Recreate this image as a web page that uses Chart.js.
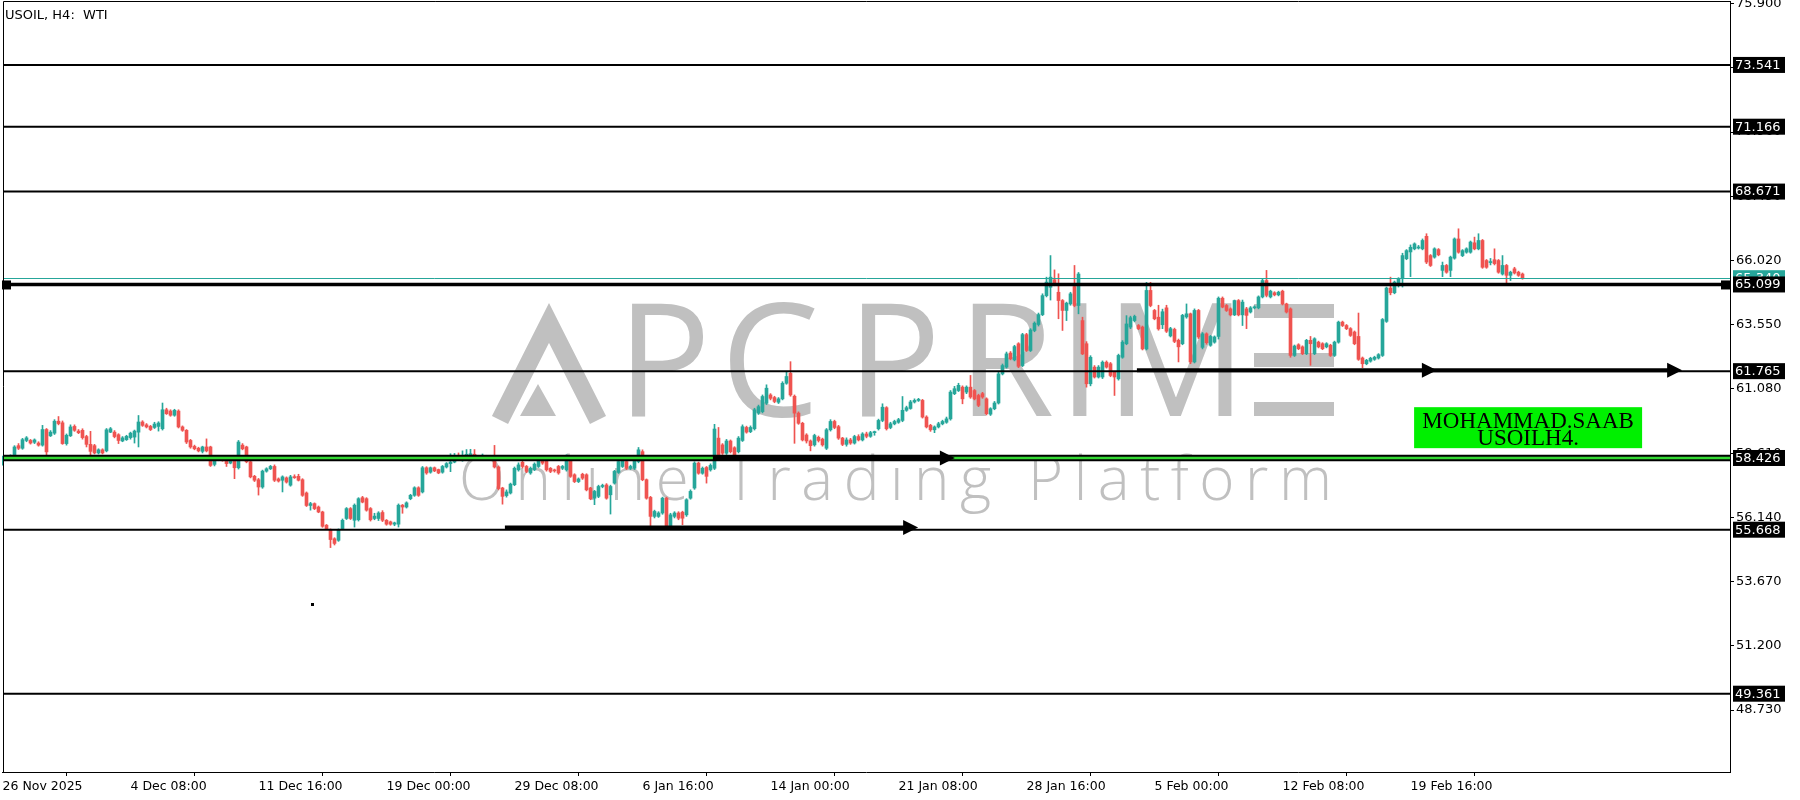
<!DOCTYPE html>
<html><head><meta charset="utf-8">
<script src="https://cdn.jsdelivr.net/npm/chart.js@4.4.1/dist/chart.umd.min.js"></script>
<style>html,body{margin:0;padding:0;background:#fff;overflow:hidden}canvas{display:block}</style>
</head><body>
<canvas id="c" width="1800" height="800"></canvas>
<script>
const opens = [
58.40,58.45,58.42,58.46,58.90,58.80,59.10,59.10,59.03,59.00,
58.92,59.52,59.28,59.38,59.84,59.78,58.98,59.28,59.64,59.46,
59.49,59.25,58.95,58.90,58.62,58.74,58.70,59.42,59.42,59.32,
59.08,59.13,59.21,59.23,59.42,59.81,59.70,59.64,59.60,59.64,
59.55,60.28,60.23,60.07,60.23,59.62,59.49,59.10,58.87,58.80,
58.68,58.85,58.85,58.18,58.36,58.38,58.36,58.23,58.31,58.05,
58.92,58.85,58.28,57.72,57.59,57.31,57.92,58.01,58.10,57.62,
57.57,57.66,57.38,57.70,57.72,57.59,57.08,56.60,56.67,56.54,
56.35,55.84,55.65,55.32,55.26,55.71,56.10,56.48,56.03,56.05,
56.90,56.86,56.48,56.10,56.10,56.33,56.03,55.97,55.88,55.88,
56.61,56.54,56.86,56.99,57.28,57.12,58.05,57.88,58.05,57.98,
57.88,58.08,58.21,58.27,58.53,58.34,58.44,58.46,58.57,58.46,
58.40,58.49,58.49,58.46,58.08,57.27,56.98,57.08,57.40,57.97,
58.26,58.10,57.85,57.98,58.10,58.35,58.35,58.03,57.95,58.10,
58.03,57.97,58.42,57.78,57.52,57.80,57.78,57.27,56.88,56.95,
57.33,57.39,57.01,57.46,57.87,58.10,58.29,58.03,58.03,58.29,
58.67,57.59,56.91,56.18,56.18,56.31,56.88,55.80,56.18,56.31,
56.34,56.24,56.88,57.27,58.23,57.84,58.06,57.97,58.03,59.19,
58.93,58.61,59.08,58.82,58.67,59.10,59.60,59.44,59.55,60.15,
60.21,60.53,60.85,60.75,60.57,60.70,61.30,61.68,60.80,60.15,
59.76,59.31,59.08,58.93,59.22,59.15,58.80,59.51,59.83,59.63,
59.19,58.95,59.12,59.00,59.25,59.12,59.35,59.26,59.40,59.55,
59.87,60.36,59.60,59.74,59.80,59.87,60.26,60.33,60.58,60.64,
60.64,60.00,59.68,59.51,59.62,59.74,59.80,59.93,60.90,61.02,
61.15,60.96,61.15,61.02,60.83,60.90,60.70,60.11,60.32,60.54,
61.66,61.92,62.46,62.20,62.82,61.98,63.17,62.56,63.33,63.56,
63.94,64.67,64.99,65.28,64.80,64.48,64.10,64.35,65.02,64.29,
63.71,62.82,61.28,61.92,61.54,61.54,62.11,62.05,61.72,61.47,
62.30,62.82,63.46,63.71,63.52,63.46,62.62,64.87,64.10,63.84,
63.55,64.20,63.12,63.37,62.95,62.82,63.85,63.97,62.12,64.10,
62.68,63.20,62.76,62.88,63.10,64.57,64.29,64.16,63.93,64.48,
63.93,64.16,64.04,64.20,64.20,64.62,65.25,64.62,64.78,64.70,
64.84,64.35,64.16,62.37,62.78,62.70,62.44,62.95,62.44,62.88,
62.82,62.70,62.76,62.37,62.88,63.65,63.52,63.40,63.27,63.10,
62.27,62.05,62.15,62.22,62.27,62.37,63.68,64.96,64.78,65.12,
65.32,66.09,66.35,66.47,66.50,66.47,66.95,66.21,66.15,66.44,
65.64,65.83,65.64,66.11,66.85,66.21,66.34,66.34,66.70,66.47,
66.79,66.02,65.94,66.05,66.02,65.50,65.83,65.45,65.70,65.57,
65.50];
const highs = [
58.50,58.52,58.55,58.90,58.98,59.18,59.25,59.14,59.16,59.05,
59.68,59.56,59.48,59.90,60.02,59.85,59.35,59.70,59.70,59.52,
59.55,59.30,59.45,58.95,58.78,58.78,59.56,59.60,59.48,59.36,
59.25,59.30,59.42,59.50,60.06,59.86,59.75,59.68,59.80,59.82,
60.54,60.34,60.28,60.30,60.28,59.66,59.52,59.14,58.92,58.84,
58.88,59.16,58.88,58.40,58.44,58.42,58.40,58.52,58.35,59.10,
58.98,58.88,58.32,57.76,57.64,57.96,58.05,58.14,58.16,57.66,
57.74,57.70,57.76,57.78,57.80,57.63,57.12,56.72,56.70,56.58,
56.38,55.87,55.70,55.36,55.70,56.08,56.52,56.52,56.66,56.90,
56.95,56.90,56.52,56.30,56.36,56.40,56.06,56.00,55.96,56.66,
56.64,56.74,57.03,57.32,57.32,58.10,58.09,58.08,58.08,58.00,
58.14,58.25,58.59,58.60,58.62,58.70,58.75,58.76,58.75,58.52,
58.58,58.53,58.53,58.91,58.12,57.30,57.20,57.46,58.08,58.24,
58.30,58.14,58.08,58.24,58.42,58.40,58.38,58.06,58.00,58.14,
58.14,58.55,58.46,57.82,57.66,57.84,57.82,57.30,57.18,57.38,
57.42,57.44,57.38,57.95,58.34,58.40,58.33,58.15,58.40,58.83,
58.74,57.62,56.95,56.42,56.36,56.92,56.92,56.30,56.36,56.36,
56.38,56.86,57.20,58.28,58.27,58.08,58.10,58.20,59.72,59.60,
58.98,59.14,59.12,58.86,59.25,59.70,59.65,59.66,60.34,60.46,
60.85,61.24,60.90,60.80,60.75,61.36,61.75,62.13,60.85,60.20,
59.80,59.36,59.12,59.34,59.27,59.19,59.56,59.90,59.88,59.68,
59.22,59.20,59.18,59.30,59.32,59.40,59.42,59.45,59.46,59.92,
60.51,60.40,59.80,59.88,59.95,60.79,60.42,60.64,60.70,60.72,
60.68,60.05,59.72,59.66,59.80,59.88,60.00,61.02,61.18,61.30,
61.20,61.20,61.60,61.06,60.88,60.95,60.74,60.36,60.60,61.72,
62.04,62.50,62.52,62.76,62.86,63.22,63.22,63.40,63.66,64.00,
64.74,65.38,66.21,65.66,65.51,64.52,64.42,64.80,65.83,65.56,
63.84,62.90,62.36,61.98,61.98,62.16,62.16,62.10,61.76,62.42,
62.94,63.90,63.88,63.92,63.56,63.50,65.18,65.18,64.14,64.30,
64.15,64.30,63.45,63.42,63.00,63.95,64.35,64.00,64.16,64.14,
63.25,63.24,63.14,63.12,64.62,64.62,64.33,64.20,64.50,64.52,
64.50,64.22,64.25,64.28,64.66,65.30,65.64,64.88,64.82,64.84,
64.88,64.38,64.20,62.77,62.82,62.74,62.99,63.10,63.05,62.92,
62.86,62.86,62.80,62.92,63.69,63.69,63.56,63.44,63.31,64.00,
62.31,62.22,62.30,62.34,62.44,63.79,65.00,65.38,65.23,65.36,
66.30,66.44,66.62,66.70,66.60,66.85,67.05,66.25,66.51,66.48,
65.96,65.87,66.19,66.89,67.24,66.44,66.51,66.77,66.92,67.05,
66.83,66.06,66.10,66.47,66.06,66.21,65.87,65.61,65.76,65.61,
65.54];
const lows = [
58.15,58.38,58.38,58.42,58.75,58.76,59.05,58.96,58.98,58.88,
58.88,58.34,59.25,59.33,59.70,58.95,58.92,59.25,59.45,59.36,
59.15,58.85,58.34,58.58,58.58,58.58,58.66,59.40,59.20,58.98,
59.05,59.10,59.15,59.00,58.85,59.64,59.58,59.48,59.56,59.46,
59.50,60.10,60.03,60.03,59.58,59.45,58.98,58.80,58.74,58.66,
58.62,58.66,58.10,58.12,58.32,58.30,58.10,58.20,57.63,58.00,
58.74,58.24,57.66,57.52,57.00,57.26,57.88,57.98,57.52,57.50,
57.12,57.46,57.34,57.64,57.54,56.95,56.56,56.42,56.44,56.32,
55.76,55.68,54.98,55.08,55.22,55.68,56.06,56.06,55.77,56.00,
56.70,56.38,56.00,56.05,56.02,55.98,55.84,55.84,55.82,55.77,
56.30,56.50,56.82,56.95,56.95,57.08,57.80,57.84,57.90,57.82,
57.84,58.04,57.90,58.24,58.36,58.30,58.40,58.42,58.36,58.36,
58.36,58.36,58.36,58.04,57.20,56.65,56.92,57.04,57.36,57.92,
58.04,57.86,57.80,57.94,58.06,58.18,57.92,57.86,57.88,57.80,
57.98,57.92,57.68,57.48,57.48,57.60,57.16,56.82,56.63,56.90,
57.28,56.84,56.27,57.42,57.83,58.06,57.98,57.98,57.98,58.24,
57.55,56.84,55.79,56.12,56.14,56.26,55.70,55.75,56.12,56.05,
55.86,56.18,56.84,57.22,57.80,57.80,57.46,57.92,57.98,58.50,
58.56,58.56,58.62,58.40,58.62,59.06,59.38,59.40,59.50,60.10,
60.16,60.48,60.66,60.55,60.52,60.66,61.26,60.80,58.99,59.72,
59.08,59.00,58.70,58.88,59.04,58.88,58.75,59.46,59.55,59.14,
58.90,58.88,58.95,58.96,59.08,59.08,59.20,59.22,59.30,59.50,
59.82,59.50,59.55,59.70,59.76,59.82,60.22,60.30,60.54,60.60,
59.96,59.58,59.45,59.40,59.58,59.70,59.76,59.88,60.86,60.98,
60.51,60.90,60.72,60.66,60.40,60.72,60.08,60.06,60.28,60.50,
61.62,61.88,62.20,62.16,61.90,61.94,62.52,62.52,63.28,63.50,
63.90,64.62,64.50,65.05,63.78,63.33,63.71,64.30,64.24,63.97,
62.40,61.15,61.20,61.50,61.50,61.48,61.88,61.55,60.83,61.42,
62.26,62.78,63.40,63.66,63.36,62.58,62.58,64.24,63.74,63.34,
63.40,63.25,63.08,62.86,62.12,62.78,63.80,62.05,62.08,63.02,
62.62,62.80,62.72,62.84,63.00,64.20,64.06,63.89,63.90,63.89,
63.52,63.40,64.00,64.16,64.16,64.58,64.62,64.58,64.66,64.66,
64.31,64.00,62.30,62.33,62.59,62.40,62.40,61.99,62.40,62.66,
62.59,62.66,62.33,62.33,62.84,63.48,63.36,63.10,62.78,62.18,
61.90,62.01,62.11,62.18,62.23,62.33,63.64,64.70,64.74,65.00,
65.00,66.05,65.40,66.43,66.46,66.43,65.90,65.79,66.11,66.20,
65.40,65.53,65.40,66.07,66.30,66.17,66.30,66.30,66.43,66.43,
65.72,65.72,65.85,65.85,65.53,65.46,65.10,65.25,65.50,65.41,
65.30];
const closes = [
58.45,58.44,58.50,58.85,58.80,59.13,59.20,59.00,59.12,58.92,
59.52,58.66,59.42,59.84,59.75,58.98,59.30,59.62,59.49,59.40,
59.21,58.95,58.68,58.62,58.74,58.62,59.51,59.55,59.25,59.10,
59.20,59.26,59.38,59.46,59.81,59.68,59.62,59.52,59.73,59.77,
60.28,60.13,60.07,60.26,59.62,59.49,59.04,58.85,58.78,58.70,
58.85,58.70,58.14,58.36,58.38,58.33,58.21,58.34,58.05,59.04,
58.78,58.28,57.70,57.57,57.31,57.92,58.01,58.10,57.57,57.54,
57.70,57.50,57.70,57.67,57.57,56.99,56.60,56.67,56.48,56.35,
55.80,55.71,55.29,55.14,55.65,56.03,56.48,56.10,56.61,56.86,
56.73,56.42,56.05,56.19,56.31,56.03,55.88,55.88,55.93,56.61,
56.54,56.70,56.99,57.28,56.99,58.05,57.85,58.05,57.93,57.85,
58.10,58.21,58.27,58.40,58.40,58.53,58.57,58.59,58.40,58.40,
58.53,58.40,58.40,58.08,57.25,56.95,57.12,57.42,58.03,58.16,
58.10,57.91,58.03,58.19,58.35,58.23,57.97,57.91,57.93,57.85,
58.10,58.48,57.72,57.52,57.62,57.65,57.20,56.86,57.14,57.33,
57.37,56.88,57.33,57.91,58.29,58.35,58.03,58.10,58.35,58.74,
57.59,56.88,56.18,56.37,56.31,56.88,55.73,56.24,56.31,56.11,
56.11,56.82,57.14,58.23,57.84,58.03,57.72,58.14,59.54,58.55,
58.61,59.08,58.67,58.55,59.19,59.63,59.42,59.60,60.28,60.40,
60.79,61.11,60.72,60.60,60.70,61.30,61.56,60.85,60.15,59.76,
59.12,59.08,58.90,59.29,59.10,58.93,59.51,59.83,59.60,59.19,
58.95,59.12,59.00,59.25,59.12,59.35,59.26,59.40,59.44,59.87,
60.38,59.55,59.74,59.83,59.90,60.26,60.36,60.58,60.64,60.68,
60.00,59.62,59.51,59.62,59.74,59.83,59.93,60.96,61.09,61.22,
60.70,61.15,60.77,60.70,60.45,60.77,60.13,60.32,60.54,61.66,
61.98,62.43,62.24,62.71,61.95,63.17,62.56,63.35,63.61,63.94,
64.67,65.19,65.38,65.12,64.48,64.10,64.38,64.74,64.29,65.50,
62.43,61.28,62.30,61.54,61.92,62.11,61.92,61.60,61.54,62.37,
62.88,63.58,63.82,63.87,63.40,62.62,64.87,64.29,63.78,63.39,
64.05,63.30,63.40,62.91,62.70,63.91,63.97,62.12,64.10,63.08,
63.20,62.86,63.10,63.08,64.57,64.23,64.10,63.93,64.48,63.93,
64.42,63.91,64.20,64.22,64.62,65.25,64.68,64.84,64.70,64.80,
64.35,64.04,62.37,62.73,62.63,62.44,62.95,62.82,63.01,62.70,
62.63,62.82,62.37,62.88,63.65,63.52,63.40,63.14,62.82,62.22,
62.05,62.18,62.26,62.30,62.40,63.75,64.96,64.78,65.19,65.32,
66.21,66.40,66.53,66.66,66.54,66.79,65.96,65.83,66.47,66.24,
65.83,65.57,66.15,66.85,66.34,66.40,66.47,66.73,66.47,66.79,
65.76,65.76,65.98,65.90,65.57,65.83,65.45,65.57,65.54,65.45,
65.34];

// time axis: a label every 32 H4 bars
const tickBars = [0,32,64,96,128,160,192,224,256,288,320,352];
const tickLabels = ["26 Nov 2025","4 Dec 08:00","11 Dec 16:00","19 Dec 00:00","29 Dec 08:00","6 Jan 16:00","14 Jan 00:00","21 Jan 08:00","28 Jan 16:00","5 Feb 00:00","12 Feb 08:00","19 Feb 16:00"];
const priceTicks = [48.73,51.20,53.67,56.14,58.61,61.08,63.55,66.02,68.49,70.96,73.43,75.90];

// horizontal level lines drawn on the chart
const levelPrices = [73.541,71.166,68.671,65.099,61.765,58.426,55.668,49.361];
const MAIN_LEVEL = 65.099, GREEN_LEVEL = 58.426;

// arrows (bar index / price anchors)
const arrowFromBar = [125.6,177.6,283.6];
const arrowToBar = [228.9,238.1,419.9];
const arrowMidHeadBar = [null,null,358.6];
const arrowPrice = [55.75,58.43,61.80];

const dotBar = 77.25, dotPrice = 52.80;
const noteLines = ["MOHAMMAD.SAAB","USOILH4."];
const noteCenterBar = 381.4, noteTopPrice = 60.38;
const title = "USOIL, H4:  WTI";

const UP = '#26a69a', DN = '#ef5350';
const colors = closes.map((c,i)=> c >= opens[i] ? UP : DN);
const bodies = closes.map((c,i)=>({x:i, y:[opens[i], c]}));
const wicks = closes.map((c,i)=>({x:i, y:[lows[i], highs[i]]}));
const lastPrice = closes[closes.length-1];

const WM = '#c0c0c0';
const AXF = '"DejaVu Sans", Verdana, sans-serif';

const noPad = s => { s.paddingTop = 0; s.paddingBottom = 0; s.paddingLeft = 0; s.paddingRight = 0; };

const drawPlugin = {
  id:'mt5',
  beforeDatasetsDraw(chart){
    const {ctx, chartArea:a} = chart;
    ctx.save();
    ctx.beginPath(); ctx.rect(a.left, a.top, a.right-a.left, a.bottom-a.top); ctx.clip();
    ctx.fillStyle = WM; ctx.strokeStyle = WM;
    // logo "A"
    ctx.lineWidth = 18; ctx.lineJoin = 'miter'; ctx.lineCap = 'butt';
    ctx.beginPath(); ctx.moveTo(500,420); ctx.lineTo(549,323); ctx.lineTo(598,420); ctx.stroke();
    ctx.beginPath(); ctx.moveTo(520,416); ctx.lineTo(556,416); ctx.lineTo(538,384); ctx.closePath(); ctx.fill();
    // letters
    ctx.font = '400 157px "Open Sans", Lato, sans-serif';
    ctx.textAlign = 'center'; ctx.textBaseline = 'alphabetic';
    [['P',664],['C',770],['P',894],['R',1006],['I',1080],['M',1176]].forEach(([ch,x])=>ctx.fillText(ch,x,416));
    // "E" as three bars
    ctx.fillRect(1254,304,80,14); ctx.fillRect(1254,353,80,14); ctx.fillRect(1254,402,80,14);
    // tagline
    const txt = 'Online Trading Platform';
    ctx.font = '300 60px "Open Sans", Lato, sans-serif';
    ctx.textAlign = 'left';
    const w = ctx.measureText(txt).width;
    const sp = (873 - w) / (txt.length - 1);
    try { ctx.letterSpacing = sp.toFixed(2) + 'px'; } catch(e) {}
    ctx.fillText(txt, 459, 500);
    try { ctx.letterSpacing = '0px'; } catch(e) {}
    ctx.restore();
  },
  afterDatasetsDraw(chart){
    const {ctx, chartArea:a, scales:{x, y}} = chart;
    const L = a.left + 1, R = a.right;
    ctx.save();
    // current price line
    const yl = Math.round(y.getPixelForValue(lastPrice)) + 0.5;
    ctx.strokeStyle = UP; ctx.lineWidth = 1;
    ctx.beginPath(); ctx.moveTo(L, yl); ctx.lineTo(R, yl); ctx.stroke();
    // levels
    levelPrices.forEach(p=>{
      const yy = y.getPixelForValue(p);
      if (p === GREEN_LEVEL) {
        ctx.strokeStyle = '#000'; ctx.lineWidth = 6.5;
        ctx.beginPath(); ctx.moveTo(L, yy); ctx.lineTo(R, yy); ctx.stroke();
        ctx.strokeStyle = '#34d834'; ctx.lineWidth = 2.5;
        ctx.beginPath(); ctx.moveTo(L, yy); ctx.lineTo(R, yy); ctx.stroke();
      } else {
        ctx.strokeStyle = '#000'; ctx.lineWidth = (p === MAIN_LEVEL) ? 3.5 : 2;
        ctx.beginPath(); ctx.moveTo(L, yy); ctx.lineTo(R, yy); ctx.stroke();
        if (p === MAIN_LEVEL) {
          ctx.fillStyle = '#000';
          ctx.fillRect(a.left, yy-4, 9, 9);
          ctx.fillRect(R-9, yy-4, 9, 9);
        }
      }
    });
    // arrows
    ctx.fillStyle = '#000'; ctx.strokeStyle = '#000'; ctx.lineWidth = 4;
    const head = (hx, hy)=>{ ctx.beginPath(); ctx.moveTo(hx, hy); ctx.lineTo(hx-15, hy-7.5); ctx.lineTo(hx-15, hy+7.5); ctx.closePath(); ctx.fill(); };
    arrowFromBar.forEach((b,i)=>{
      const x1 = x.getPixelForValue(b), x2 = x.getPixelForValue(arrowToBar[i]);
      const yy = y.getPixelForValue(arrowPrice[i]);
      ctx.beginPath(); ctx.moveTo(x1, yy); ctx.lineTo(x2-12, yy); ctx.stroke();
      head(x2, yy);
      if (arrowMidHeadBar[i] !== null) head(x.getPixelForValue(arrowMidHeadBar[i]), yy);
    });
    // dot
    ctx.fillRect(Math.round(x.getPixelForValue(dotBar))-1, Math.round(y.getPixelForValue(dotPrice))-1, 3, 3);
    // note box
    const cx = x.getPixelForValue(noteCenterBar), ty = y.getPixelForValue(noteTopPrice);
    ctx.fillStyle = '#00f000';
    ctx.fillRect(cx-114, ty, 228, 41);
    ctx.fillStyle = '#000';
    ctx.font = '23px "Liberation Serif", "Times New Roman", serif';
    ctx.textAlign = 'center'; ctx.textBaseline = 'alphabetic';
    ctx.fillText(noteLines[0], cx, ty+21);
    ctx.fillText(noteLines[1], cx, ty+38);
    ctx.restore();
  },
  afterDraw(chart){
    const {ctx, chartArea:a, scales:{y}} = chart;
    ctx.save();
    // frame left / top
    ctx.strokeStyle = '#000'; ctx.lineWidth = 1;
    ctx.beginPath(); ctx.moveTo(a.left+1.5, a.bottom); ctx.lineTo(a.left+1.5, a.top+0.5); ctx.lineTo(a.right, a.top+0.5); ctx.stroke();
    // price labels
    ctx.font = '13px ' + AXF; ctx.textBaseline = 'middle'; ctx.textAlign = 'left';
    const lab = (p, bg)=>{
      const yy = y.getPixelForValue(p);
      ctx.fillStyle = bg; ctx.fillRect(a.right+3, yy-8, 52, 16);
      ctx.fillStyle = '#fff'; ctx.fillText(p.toFixed(3), a.right+5, yy+0.5);
    };
    lab(lastPrice, UP);
    levelPrices.forEach(p=>lab(p, '#000'));
    // title
    ctx.fillStyle = '#000'; ctx.textBaseline = 'alphabetic';
    ctx.fillText(title, 5, 19);
    ctx.restore();
  }
};

new Chart(document.getElementById('c'), {
  type:'bar',
  data:{datasets:[
    {data:bodies, backgroundColor:colors, barThickness:3, minBarLength:1, grouped:false, borderWidth:0},
    {data:wicks, backgroundColor:colors, barThickness:1, grouped:false, borderWidth:0}
  ]},
  options:{
    responsive:false, animation:false, devicePixelRatio:1,
    layout:{padding:{left:2, top:1, right:0, bottom:0}},
    plugins:{legend:{display:false}, tooltip:{enabled:false}},
    scales:{
      x:{type:'linear', min:-0.125, max:431.875, offset:false,
        afterBuildTicks:s=>{ s.ticks = tickBars.map(v=>({value:v})); },
        afterFit:s=>{ s.height = 28; noPad(s); },
        grid:{display:true, drawOnChartArea:false, drawTicks:true, tickLength:4, color:'#000'},
        border:{display:true, color:'#000', width:1},
        ticks:{align:'start', maxRotation:0, autoSkip:false, padding:3, color:'#000',
          font:{family:AXF, size:12.5},
          callback:(v)=>{ const k = tickBars.indexOf(Math.round(v)); return k>=0 ? tickLabels[k] : ''; }}
      },
      y:{position:'right', min:46.35, max:76.0,
        afterBuildTicks:s=>{ s.ticks = priceTicks.map(v=>({value:v})); },
        afterFit:s=>{ s.width = 70; noPad(s); },
        grid:{display:true, drawOnChartArea:false, drawTicks:true, tickLength:4, color:'#000'},
        border:{display:true, color:'#000', width:1},
        ticks:{autoSkip:false, padding:2, color:'#000', font:{family:AXF, size:13},
          callback:(v)=>Number(v).toFixed(3)}
      }
    }
  },
  plugins:[drawPlugin]
});
</script>
</body></html>
